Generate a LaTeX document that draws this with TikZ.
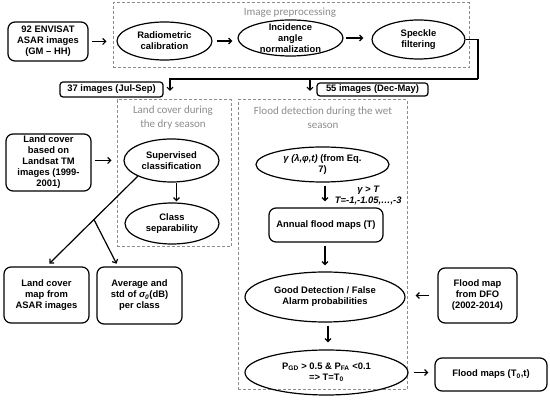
\documentclass[tikz,border=0pt]{standalone}
\usepackage{fontspec}
\setmainfont{Liberation Sans}
\newfontfamily\titlefont{Carlito}
\usetikzlibrary{arrows.meta, shapes.geometric, calc, positioning}
\definecolor{groupgray}{HTML}{8C8C8C}
\tikzset{
  box/.style={draw, line width=1.2pt, rounded corners=7pt, align=center,
     font=\bfseries\fontsize{9.4}{11}\selectfont, inner sep=0pt},
  tag/.style={draw, line width=1.2pt, rounded corners=3pt,
     font=\bfseries\fontsize{9.4}{11}\selectfont, inner sep=0pt},
  oval/.style={draw, ellipse, line width=1.2pt, inner sep=0pt},
  ovaltext/.style={align=center, font=\bfseries\fontsize{9.4}{11}\selectfont},
  group/.style={draw=groupgray, dash pattern=on 3pt off 2pt, line width=1pt, inner sep=0pt},
  grouptitle/.style={text=groupgray, font=\titlefont\fontsize{11}{14}\selectfont, align=center},
  arr/.style={-{Straight Barb[length=3pt,width=6pt]}, line width=1.2pt},
  link/.style={line width=1.2pt}
}

\begin{document}
\begin{tikzpicture}[x=1pt, y=-1pt]
  \useasboundingbox (0,0) rectangle (550,403);

  % dashed groups
  \node[group, minimum width=356, minimum height=65] (prep) at (291,35.5) {};
  \node[group, minimum width=114, minimum height=147] (dry) at (174,173.5) {};
  \node[group, minimum width=169, minimum height=290] (wet) at (322.5,245) {};
  \node[grouptitle] (preptitle) at (290,13) {Image preprocessing};
  \node[grouptitle] (drytitle) at (173,118) {Land cover during\\the dry season};
  \node[grouptitle] (wettitle) at (323,118) {Flood detection during the wet\\season};

  % preprocessing
  \node[box, minimum width=80, minimum height=39] (envisat) at (48,41.5) {92 ENVISAT\\ASAR images\\(GM -- HH)};
  \node[oval, minimum width=95, minimum height=38,
     label={[ovaltext]center:{Radiometric\\calibration}}] (radio) at (164.5,41) {};
  \node[oval, minimum width=105, minimum height=36,
     label={[ovaltext]center:{Incidence\\angle\\normalization}}] (incid) at (290.5,38) {};
  \node[oval, minimum width=93, minimum height=39,
     label={[ovaltext]center:{Speckle\\filtering}}] (speckle) at (418.5,39.5) {};

  \draw[arr, shorten <=3pt, shorten >=6pt] (envisat.east) -- (envisat.east -| prep.west);
  \draw[arr, shorten <=4pt, shorten >=5pt] (radio.east) -- (radio.east -| incid.west);
  \draw[arr, shorten <=2pt, shorten >=8pt] (incid.east) -- (incid.east -| speckle.west);

  % split of the image set
  \coordinate (bend) at (478,79);
  \coordinate (dryin) at (170,91);
  \coordinate (wetin) at (310,91);
  \draw[link] (speckle.east) -| (bend);
  \draw[arr] (bend) -| (dryin);
  \draw[arr] (wetin |- bend) -- (wetin);
  \node[tag, minimum width=103, minimum height=15] (set37) at (111.5,89.5) {37 images (Jul-Sep)};
  \node[tag, minimum width=111, minimum height=13] (set55) at (372.5,89.5) {55 images (Dec-May)};

  % dry season
  \node[box, minimum width=85, minimum height=57] (landsat) at (48.5,162.5)
     {Land cover\\based on\\Landsat TM\\images (1999-\\2001)};
  \node[oval, minimum width=95, minimum height=43,
     label={[ovaltext]center:{Supervised\\classification}}] (superv) at (171.5,160.5) {};
  \node[oval, minimum width=94, minimum height=41,
     label={[ovaltext]center:{Class\\separability}}] (classsep) at (172,223.5) {};
  \node[box, minimum width=85, minimum height=56] (lcmap) at (46.5,295) {Land cover\\map from\\ASAR images};
  \node[box, minimum width=85, minimum height=57] (avgstd) at (139.5,295.5)
     {Average and\\std of {\itshape σ\textsubscript{0}}(dB)\\per class};

  \draw[arr, shorten <=3pt, shorten >=5pt] (landsat.east |- superv) -- (dry.west |- superv);
  \draw[arr, shorten <=1pt, shorten >=1pt] (superv) ++(5,22) coordinate (svout) -- (svout |- classsep.north);
  \draw[arr, shorten >=4pt] (superv.205) -- (lcmap.north) coordinate[pos=0.48] (fork);
  \draw[arr, shorten >=3pt] (fork) -- ($(avgstd.north west)!0.25!(avgstd.north east)$);

  % wet season
  \node[oval, minimum width=133, minimum height=35,
     label={[ovaltext]center:{\itshape γ (λ,φ,t)\upshape{} (from Eq.\\7)}}] (gamma) at (322.5,164.5) {};
  \node[box, minimum width=114, minimum height=34] (annual) at (326,225) {Annual flood maps (T)};
  \node[oval, minimum width=160, minimum height=50,
     label={[ovaltext]center:{Good Detection / False\\Alarm probabilities}}] (gooddet) at (325,297) {};
  \node[oval, minimum width=163, minimum height=45,
     label={[ovaltext]center:{P\textsubscript{GD} > 0.5 \& P\textsubscript{FA} <0.1\\=> T=T\textsubscript{0}}}] (pthresh) at (326.5,372.5) {};
  \node[box, minimum width=79, minimum height=55] (dfo) at (477.5,295.5) {Flood map\\from DFO\\(2002-2014)};
  \node[box, minimum width=112, minimum height=33] (floodmaps) at (491,374.5) {Flood maps (T\textsubscript{0},t)};

  \draw[arr, shorten <=3pt, shorten >=6pt] ([xshift=2.5pt]gamma.south) -- ([xshift=2.5pt]gamma.south |- annual.north)
     node[midway, right, xshift=6pt, ovaltext, font=\bfseries\itshape\fontsize{9.4}{11}\selectfont] (cond) {γ > T\\T=-1,-1.05,…,-3};
  \draw[arr, shorten <=3pt, shorten >=6pt] (annual.south -| gooddet) -- (gooddet.north);
  \draw[arr, shorten <=3pt, shorten >=7pt] ([xshift=3pt]gooddet.south) -- ([xshift=3pt]gooddet.south |- pthresh.north);
  \draw[arr, shorten <=8pt, shorten >=10pt] (dfo.west) -- (dfo.west -| gooddet.east);
  \draw[arr, shorten <=5pt, shorten >=6pt] (pthresh.east) -- (pthresh.east -| floodmaps.west);
\end{tikzpicture}
\end{document}
